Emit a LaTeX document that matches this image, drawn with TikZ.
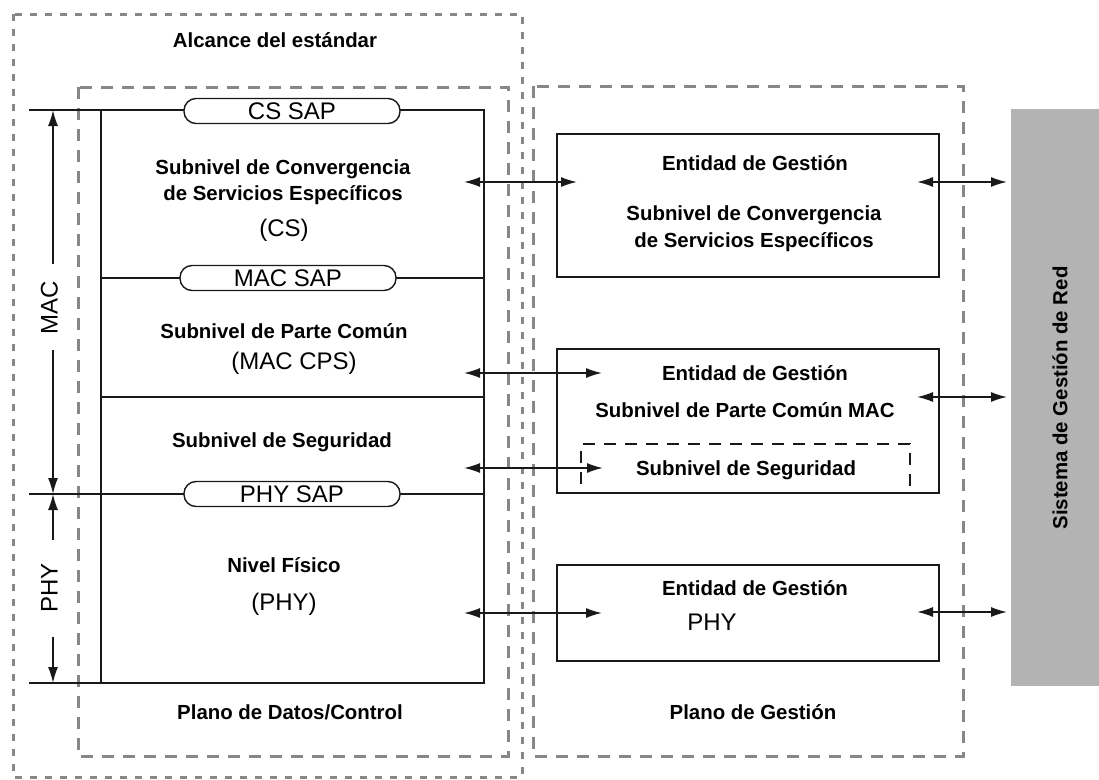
\documentclass[tikz,border=0pt]{standalone}
\usepackage{fontspec}
\setmainfont{Liberation Sans}
\usetikzlibrary{arrows.meta}
\definecolor{frame}{RGB}{135,135,135}
\definecolor{ink}{RGB}{25,25,25}
\definecolor{panel}{RGB}{179,179,179}
\tikzset{
  scopeline/.style={draw=frame, line width=3pt, dash pattern=on 7pt off 8pt},
  planeline/.style={draw=frame, line width=3pt, dash pattern=on 12pt off 9pt},
  stackline/.style={draw=ink, line width=1.6pt},
  txtb/.style={font=\fontsize{20.4}{24}\selectfont\bfseries, inner sep=0pt, text height=14.6pt, text depth=0pt},
  txtr/.style={font=\fontsize{24}{28}\selectfont, inner sep=0pt, text height=17.2pt, text depth=0pt},
  sap/.style={txtr, draw=ink, line width=1.4pt, fill=white, rounded corners=12pt, minimum width=216pt, minimum height=25pt},
  entity/.style={draw=ink, line width=1.7pt, inner sep=0pt},
  subentity/.style={draw=ink, line width=1.5pt, dash pattern=on 12pt off 9pt, inner sep=0pt},
  duplex/.style={draw=ink, line width=1.5pt, {Latex[length=16pt,width=10pt]}-{Latex[length=16pt,width=10pt]}},
  dimarrow/.style={draw=ink, line width=1.5pt, -{Latex[length=16pt,width=10pt]}},
}
\begin{document}
\begin{tikzpicture}[x=1pt,y=-1pt]
\useasboundingbox (0,0) rectangle (1099,779);

% scope of the standard
\draw[scopeline] (13,14) rectangle (522,777);
\node[txtb] (scope) at (275,40) {Alcance del estándar};

% data/control plane and management plane
\draw[planeline] (78,87) rectangle (508,756);
\draw[planeline] (533,86) rectangle (963,756);

% protocol stack
\draw[stackline] (29,110) -- (484,110) -- (484,683) -- (29,683);
\draw[stackline] (101,110) -- (101,683);
\draw[stackline] (101,278) -- (484,278);
\draw[stackline] (101,397) -- (484,397);
\draw[stackline] (29,494) -- (484,494);

% service access points
\node[sap] (cssap) at (292,111) {CS SAP};
\node[sap] (macsap) at (288,278) {MAC SAP};
\node[sap] (physap) at (292,494) {PHY SAP};

% stack layers
\node[txtb] (cs1) at (283,167) {Subnivel de Convergencia};
\node[txtb] (cs2) at (283,193) {de Servicios Específicos};
\node[txtr] (cs3) at (284,228) {(CS)};
\node[txtb] (cps1) at (284,331) {Subnivel de Parte Común};
\node[txtr] (cps2) at (294,361) {(MAC CPS)};
\node[txtb] (sec) at (282,440) {Subnivel de Seguridad};
\node[txtb] (phy1) at (284,565) {Nivel Físico};
\node[txtr] (phy2) at (284,602) {(PHY)};
\node[txtb] (dcp) at (290,712) {Plano de Datos/Control};

% MAC / PHY extents
\node[txtr, rotate=90] (maclbl) at (49,308) {MAC};
\node[txtr, rotate=90] (phylbl) at (49,588) {PHY};
\coordinate (macUp) at (53,264);
\coordinate (macTop) at (53,110);
\coordinate (macDn) at (53,350);
\coordinate (macBot) at (53,494);
\coordinate (phyUp) at (53,540);
\coordinate (phyTop) at (53,494);
\coordinate (phyDn) at (53,637);
\coordinate (phyBot) at (53,683);
\draw[dimarrow] (macUp) -- (macTop);
\draw[dimarrow] (macDn) -- (macBot);
\draw[dimarrow] (phyUp) -- (phyTop);
\draw[dimarrow] (phyDn) -- (phyBot);

% management entities
\node[entity, minimum width=382pt, minimum height=143pt] (mg1) at (748,205.5) {};
\node[txtb] (mg1a) at (755,163) {Entidad de Gestión};
\node[txtb] (mg1b) at (754,213) {Subnivel de Convergencia};
\node[txtb] (mg1c) at (754,240) {de Servicios Específicos};

\node[entity, minimum width=382pt, minimum height=144pt] (mg2) at (748,421) {};
\node[txtb] (mg2a) at (755,373) {Entidad de Gestión};
\node[txtb] (mg2b) at (745,410) {Subnivel de Parte Común MAC};
\node[subentity, minimum width=329pt, minimum height=49pt] (mg2s) at (745.5,468.5) {};
\node[txtb] (mg2c) at (746,468) {Subnivel de Seguridad};

\node[entity, minimum width=382pt, minimum height=96pt] (mg3) at (748,613) {};
\node[txtb] (mg3a) at (755,588) {Entidad de Gestión};
\node[txtr] (mg3b) at (712,622) {PHY};

\node[txtb] (mgp) at (753,712) {Plano de Gestión};

% network management system
\node[fill=panel, inner sep=0pt, minimum width=88pt, minimum height=577pt] (nms) at (1055,397.5) {};
\node[txtb, rotate=90] (nmslbl) at (1060,398) {Sistema de Gestión de Red};

% primitives between the planes
\coordinate (d1) at (464,182); \coordinate (m1) at (577,182);
\coordinate (d2) at (464,373); \coordinate (m2) at (602,373);
\coordinate (d3) at (464,468); \coordinate (m3) at (603,468);
\coordinate (d4) at (464,613); \coordinate (m4) at (602,613);
\draw[duplex] (d1) -- (m1);
\draw[duplex] (d2) -- (m2);
\draw[duplex] (d3) -- (m3);
\draw[duplex] (d4) -- (m4);

% links to the network management system
\coordinate (e1) at (917,182); \coordinate (n1) at (1007,182);
\coordinate (e2) at (917,397); \coordinate (n2) at (1007,397);
\coordinate (e3) at (917,612); \coordinate (n3) at (1007,612);
\draw[duplex] (e1) -- (n1);
\draw[duplex] (e2) -- (n2);
\draw[duplex] (e3) -- (n3);
\end{tikzpicture}
\end{document}
